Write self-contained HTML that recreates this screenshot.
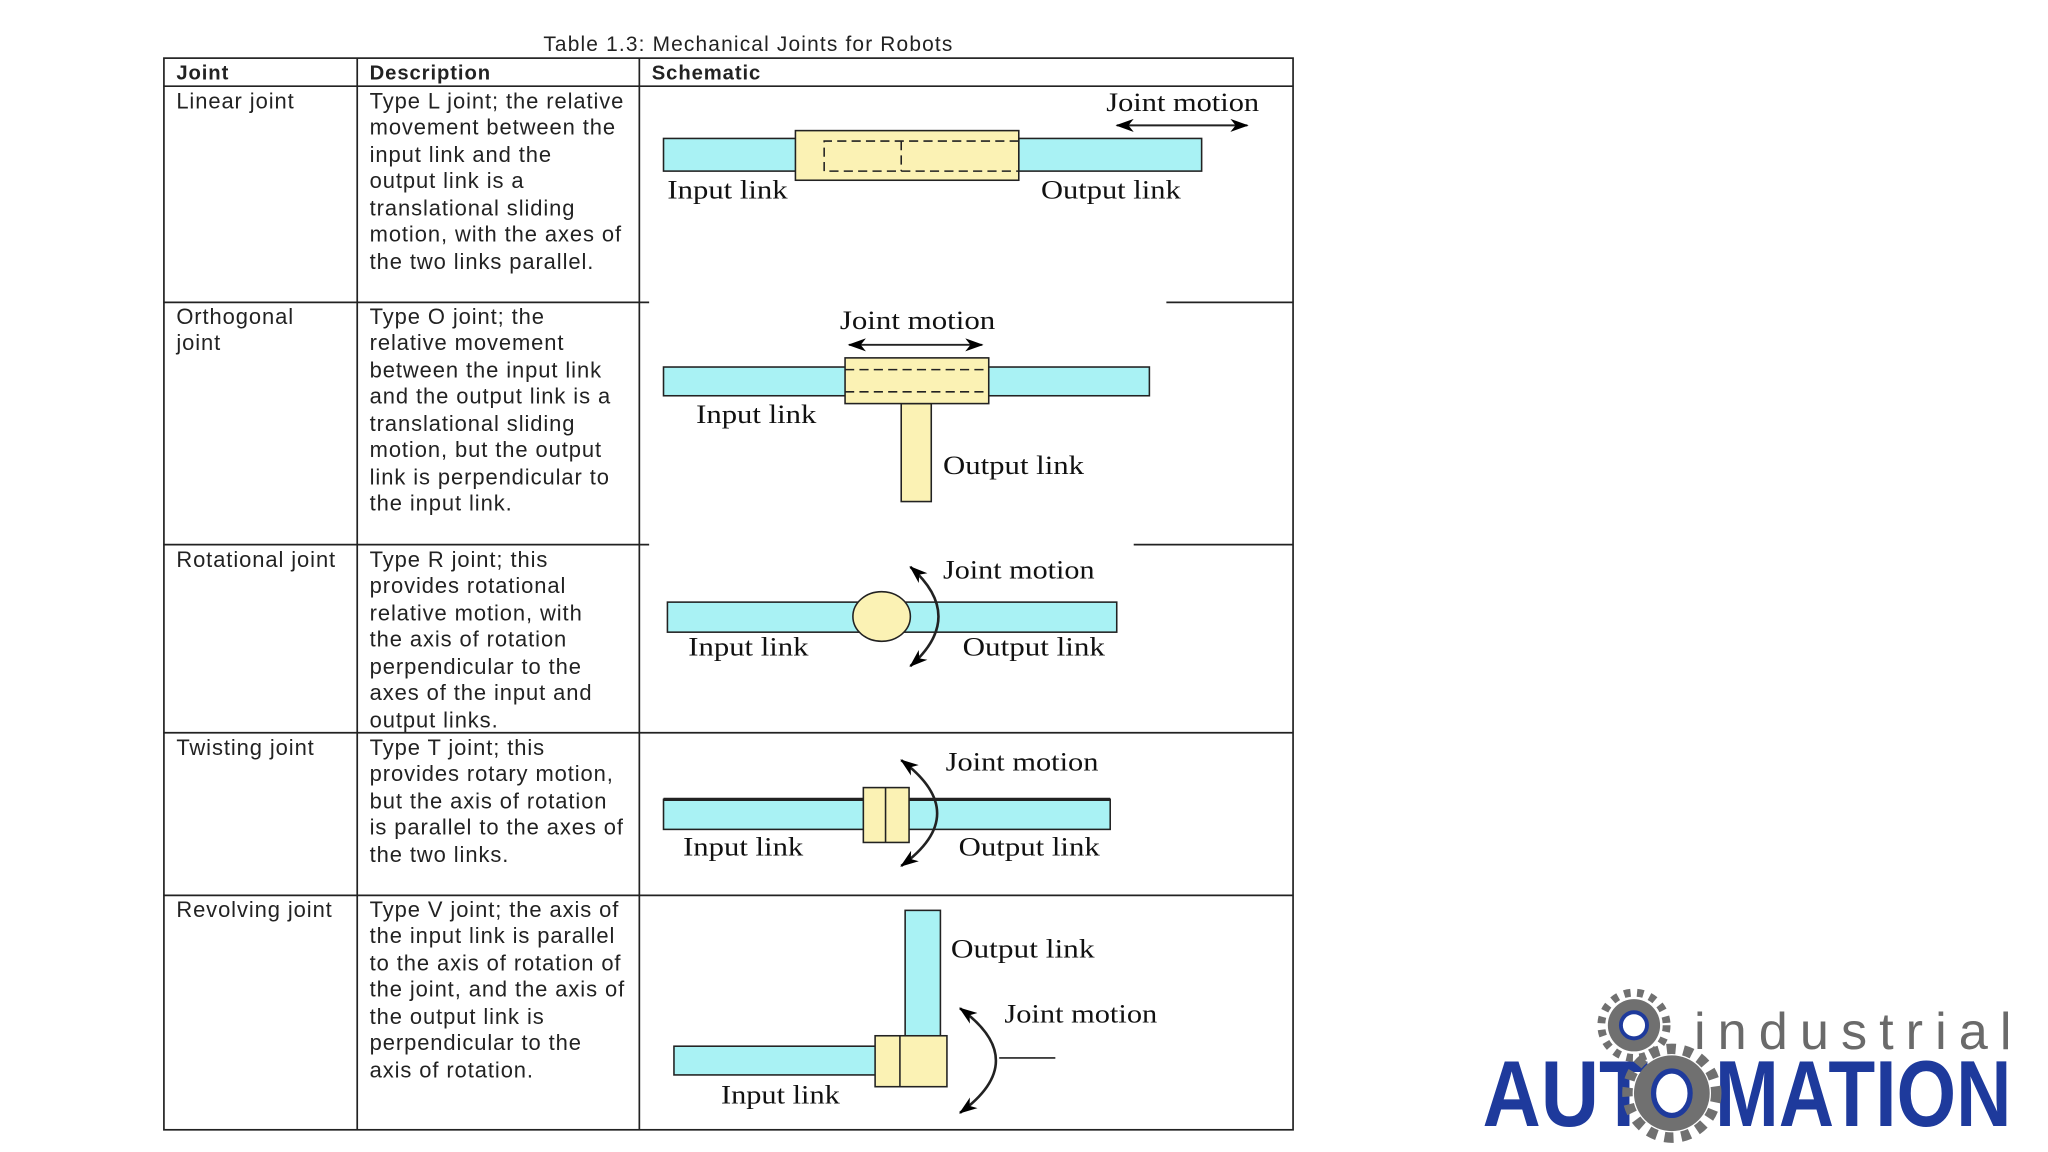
<!DOCTYPE html>
<html><head><meta charset="utf-8"><style>
html,body{margin:0;padding:0;background:#fff;}
svg{display:block;}
.t{font-family:"Liberation Sans",sans-serif;font-size:16.8px;letter-spacing:0.7px;fill:#222;}
.b{font-weight:bold;font-size:15.5px;}
.s{font-family:"Liberation Serif",serif;font-size:20px;fill:#111;}
</style></head><body>
<svg width="2048" height="1152" viewBox="0 0 1568 882" preserveAspectRatio="none" xmlns="http://www.w3.org/2000/svg">
<defs>
<marker id="ah" markerWidth="14" markerHeight="10" refX="13" refY="5" orient="auto-start-reverse" markerUnits="userSpaceOnUse"><path d="M0,0 L14,5 L0,10 L4,5 Z" fill="#000"/></marker>
</defs>
<text class="t" x="573" y="39" text-anchor="middle" style="font-size:16px;letter-spacing:0.9px">Table 1.3: Mechanical Joints for Robots</text>
<g stroke="#222" stroke-width="1.3" fill="none">
<rect x="125.5" y="44.5" width="864.5" height="820.5"/>
<line x1="125" y1="66" x2="990" y2="66"/>
<line x1="273.5" y1="44" x2="273.5" y2="865"/>
<line x1="489.5" y1="44" x2="489.5" y2="865"/>
<line x1="125" y1="231.5" x2="497" y2="231.5"/><line x1="893" y1="231.5" x2="990" y2="231.5"/>
<line x1="125" y1="417" x2="497" y2="417"/><line x1="868" y1="417" x2="990" y2="417"/>
<line x1="125" y1="561" x2="990" y2="561"/>
<line x1="125" y1="685.5" x2="990" y2="685.5"/>
</g>
<g class="t b"><text x="135" y="61">Joint</text><text x="283" y="61">Description</text><text x="499" y="61">Schematic</text></g>
<g class="t">
<text x="135" y="83">Linear joint</text>
<text x="135" y="248">Orthogonal</text><text x="135" y="268">joint</text>
<text x="135" y="434">Rotational joint</text>
<text x="135" y="578">Twisting joint</text>
<text x="135" y="702">Revolving joint</text>
<text x="283" y="83">Type L joint; the relative</text>
<text x="283" y="103">movement between the</text>
<text x="283" y="124">input link and the</text>
<text x="283" y="144">output link is a</text>
<text x="283" y="165">translational sliding</text>
<text x="283" y="185">motion, with the axes of</text>
<text x="283" y="206">the two links parallel.</text>
<text x="283" y="248">Type O joint; the</text>
<text x="283" y="268">relative movement</text>
<text x="283" y="289">between the input link</text>
<text x="283" y="309">and the output link is a</text>
<text x="283" y="330">translational sliding</text>
<text x="283" y="350">motion, but the output</text>
<text x="283" y="371">link is perpendicular to</text>
<text x="283" y="391">the input link.</text>
<text x="283" y="434">Type R joint; this</text>
<text x="283" y="454">provides rotational</text>
<text x="283" y="475">relative motion, with</text>
<text x="283" y="495">the axis of rotation</text>
<text x="283" y="516">perpendicular to the</text>
<text x="283" y="536">axes of the input and</text>
<text x="283" y="557">output links.</text>
<text x="283" y="578">Type T joint; this</text>
<text x="283" y="598">provides rotary motion,</text>
<text x="283" y="619">but the axis of rotation</text>
<text x="283" y="639">is parallel to the axes of</text>
<text x="283" y="660">the two links.</text>
<text x="283" y="702">Type V joint; the axis of</text>
<text x="283" y="722">the input link is parallel</text>
<text x="283" y="743">to the axis of rotation of</text>
<text x="283" y="763">the joint, and the axis of</text>
<text x="283" y="784">the output link is</text>
<text x="283" y="804">perpendicular to the</text>
<text x="283" y="825">axis of rotation.</text>
</g>
<g stroke="#222" stroke-width="1.2">
<rect x="508" y="106" width="102" height="25" fill="#a9f2f4"/>
<rect x="780" y="106" width="140" height="25" fill="#a9f2f4"/>
<rect x="609" y="100" width="171" height="38" fill="#fbf2b4"/>
<path d="M780,108 H631 V131 H780 M690,108 V131" fill="none" stroke-dasharray="7,4"/>
<line x1="855" y1="96" x2="955" y2="96" stroke-width="1.5" marker-start="url(#ah)" marker-end="url(#ah)"/>
<rect x="508" y="281" width="372" height="22" fill="#a9f2f4"/>
<rect x="690" y="309" width="23" height="75" fill="#fbf2b4"/>
<rect x="647" y="274" width="110" height="35" fill="#fbf2b4"/>
<path d="M647,283 H757 M647,300 H757" stroke-dasharray="7,4"/>
<line x1="650" y1="264" x2="752" y2="264" stroke-width="1.5" marker-start="url(#ah)" marker-end="url(#ah)"/>
<rect x="511" y="461" width="344" height="23" fill="#a9f2f4"/>
<ellipse cx="675" cy="472" rx="22" ry="19" fill="#fbf2b4"/>
<path d="M697,434 Q740,472 697,510" fill="none" stroke-width="2" marker-start="url(#ah)" marker-end="url(#ah)"/>
<rect x="508" y="612" width="342" height="23" fill="#a9f2f4"/>
<line x1="508" y1="612" x2="850" y2="612" stroke-width="2.5"/>
<rect x="661" y="603" width="35" height="42" fill="#fbf2b4"/>
<line x1="678" y1="603" x2="678" y2="645"/>
<path d="M690,582 Q745,623 690,663" fill="none" stroke-width="2" marker-start="url(#ah)" marker-end="url(#ah)"/>
<rect x="693" y="697" width="27" height="98" fill="#a9f2f4"/>
<rect x="516" y="801" width="156" height="22" fill="#a9f2f4"/>
<rect x="670" y="793" width="55" height="39" fill="#fbf2b4"/>
<line x1="689" y1="793" x2="689" y2="832"/>
<path d="M735,772 Q790,812 735,852" fill="none" stroke-width="2" marker-start="url(#ah)" marker-end="url(#ah)"/>
<line x1="765" y1="810" x2="808" y2="810"/>
</g>
<g class="s">
<text x="847" y="85" textLength="117" lengthAdjust="spacingAndGlyphs">Joint motion</text>
<text x="511" y="152" textLength="92" lengthAdjust="spacingAndGlyphs">Input link</text><text x="797" y="152" textLength="107" lengthAdjust="spacingAndGlyphs">Output link</text>
<text x="643" y="252" textLength="119" lengthAdjust="spacingAndGlyphs">Joint motion</text>
<text x="533" y="324" textLength="92" lengthAdjust="spacingAndGlyphs">Input link</text><text x="722" y="363" textLength="108" lengthAdjust="spacingAndGlyphs">Output link</text>
<text x="722" y="443" textLength="116" lengthAdjust="spacingAndGlyphs">Joint motion</text>
<text x="527" y="502" textLength="92" lengthAdjust="spacingAndGlyphs">Input link</text><text x="737" y="502" textLength="109" lengthAdjust="spacingAndGlyphs">Output link</text>
<text x="724" y="590" textLength="117" lengthAdjust="spacingAndGlyphs">Joint motion</text>
<text x="523" y="655" textLength="92" lengthAdjust="spacingAndGlyphs">Input link</text><text x="734" y="655" textLength="108" lengthAdjust="spacingAndGlyphs">Output link</text>
<text x="728" y="733" textLength="110" lengthAdjust="spacingAndGlyphs">Output link</text>
<text x="769" y="783" textLength="117" lengthAdjust="spacingAndGlyphs">Joint motion</text>
<text x="552" y="845" textLength="91" lengthAdjust="spacingAndGlyphs">Input link</text>
</g>
<text x="1297" y="803" textLength="243" lengthAdjust="spacing" style="font-family:'Liberation Sans',sans-serif;font-size:40px;fill:#6a6a6a;">industrial</text>
<g fill="#1e3a9c" style="font-family:'Liberation Sans Narrow','Liberation Sans',sans-serif;font-weight:bold;font-size:72px;">
<text x="1135" y="862" textLength="127" lengthAdjust="spacingAndGlyphs">AUT</text>
<text x="1313" y="862" textLength="227" lengthAdjust="spacingAndGlyphs">MATION</text>
</g>
<g fill="#707070">
<circle cx="1251" cy="785" r="20"/>
<circle cx="1251" cy="785" r="25" fill="none" stroke="#707070" stroke-width="6" stroke-dasharray="5,5"/>
<circle cx="1280" cy="837" r="29"/>
<circle cx="1280" cy="837" r="34" fill="none" stroke="#707070" stroke-width="8" stroke-dasharray="7,6"/>
</g>
<circle cx="1251" cy="785" r="10" fill="#fff" stroke="#1e3a9c" stroke-width="3"/>
<ellipse cx="1280" cy="837" rx="14" ry="17" fill="#fff" stroke="#1e3a9c" stroke-width="4"/>
</svg>
</body></html>
